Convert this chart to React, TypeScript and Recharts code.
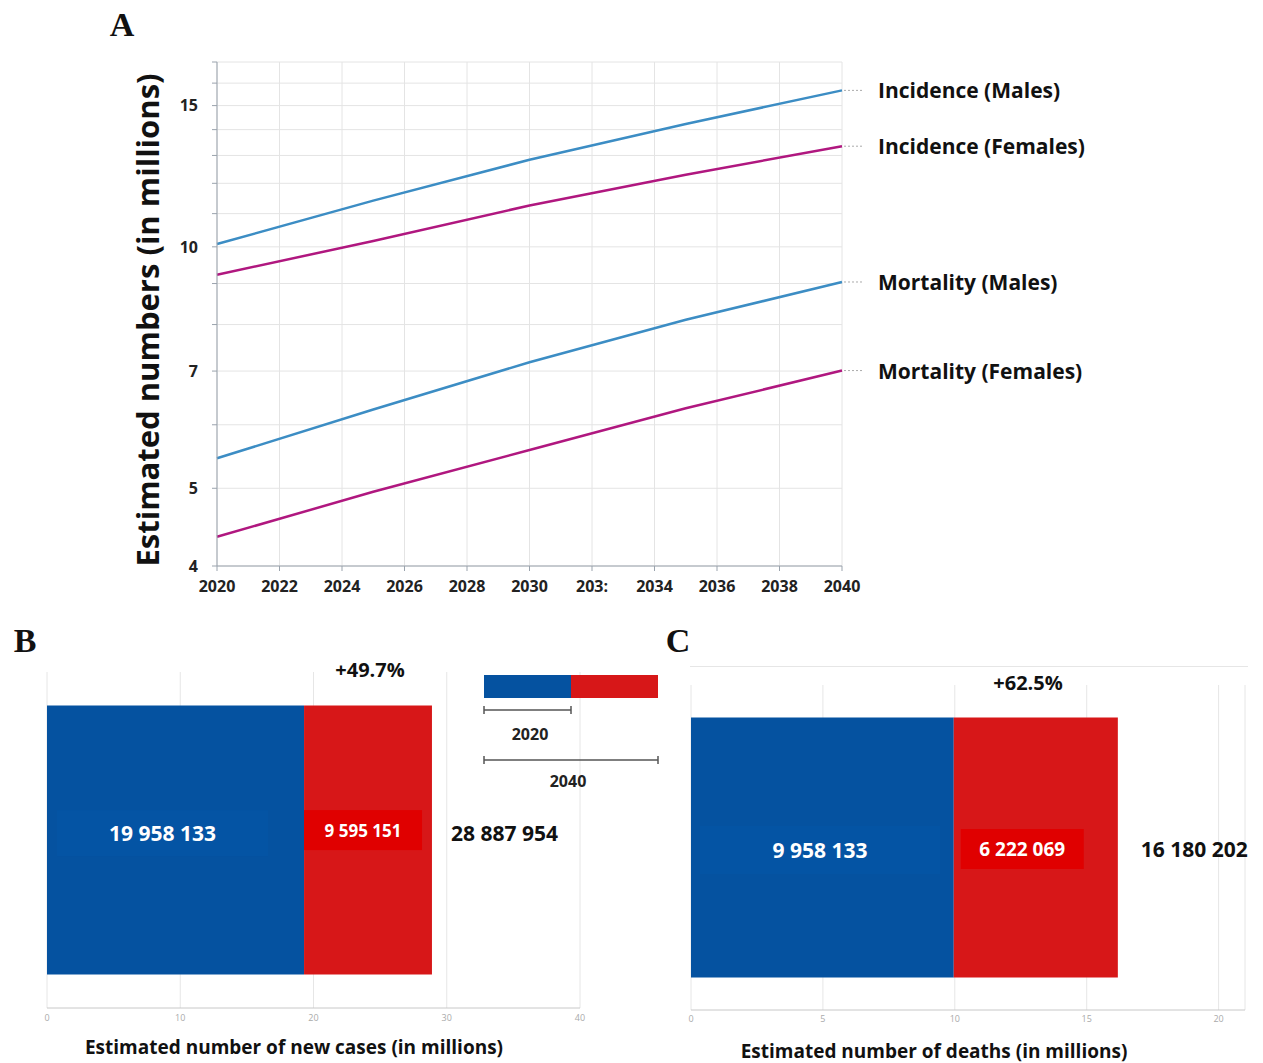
import React from 'react';
import {
  LineChart, Line, BarChart, Bar, XAxis, YAxis, CartesianGrid, LabelList,
} from 'recharts';

// panel A: projections (millions)
const years = [2020, 2025, 2030, 2035, 2040];
const incidenceMales = [10.08, 11.42, 12.84, 14.23, 15.67];
const incidenceFemales = [9.23, 10.17, 11.26, 12.3, 13.35];
const mortalityMales = [5.45, 6.27, 7.18, 8.11, 9.04];
const mortalityFemales = [4.35, 4.95, 5.58, 6.29, 7.01];
const seriesNames = ['Incidence (Males)', 'Incidence (Females)', 'Mortality (Males)', 'Mortality (Females)'];

const xTicks = [2020, 2022, 2024, 2026, 2028, 2030, 2032, 2034, 2036, 2038, 2040];
const xTickLabels = ['2020', '2022', '2024', '2026', '2028', '2030', '203:', '2034', '2036', '2038', '2040'];
const yTicks = [4, 5, 6, 7, 8, 9, 10, 11, 12, 13, 14, 15, 16, 17];
const yLabeled = [4, 5, 7, 10, 15];

// panel B: new cases
const casesCategory = ['New cases'];
const cases2020 = [19.29];
const casesGrowth = [9.6];
const casesLabels = ['19 958 133', '9 595 151', '28 887 954'];
const casesPct = '+49.7%';
const casesTicks = [0, 10, 20, 30, 40];

// panel C: deaths
const deathsCategory = ['Deaths'];
const deaths2020 = [9.96];
const deathsGrowth = [6.22];
const deathsLabels = ['9 958 133', '6 222 069', '16 180 202'];
const deathsPct = '+62.5%';
const deathsTicks = [0, 5, 10, 15, 20];

const BLUE_LINE = '#3c8dc4';
const MAGENTA = '#b0177f';
const BAR_BLUE = '#0552a0';
const BAR_RED = '#d71718';
const FONT = '"Open Sans", Lato, sans-serif';

const lineData = years.map((y, i) => ({
  year: y,
  im: incidenceMales[i],
  if: incidenceFemales[i],
  mm: mortalityMales[i],
  mf: mortalityFemales[i],
}));

const casesData = casesCategory.map((c, i) => ({
  name: c, base: cases2020[i], growth: casesGrowth[i],
  baseLabel: casesLabels[0], growthLabel: casesLabels[1], totalLabel: casesLabels[2],
}));
const deathsData = deathsCategory.map((c, i) => ({
  name: c, base: deaths2020[i], growth: deathsGrowth[i],
  baseLabel: deathsLabels[0], growthLabel: deathsLabels[1], totalLabel: deathsLabels[2],
}));

const endLabel = (name: string) => (props: any) => {
  const { x, y, index } = props;
  if (index !== years.length - 1) return null;
  return (
    <g>
      <line x1={x + 2} x2={x + 20} y1={y} y2={y} stroke="#aaa" strokeDasharray="2 2" />
      <text x={x + 36} y={y} dominantBaseline="central" fontFamily={FONT} fontWeight={700} fontSize={21} fill="#111">
        {name}
      </text>
    </g>
  );
};

const boxLabel = (o: { left: number; w: number; h: number; dy: number; fill: string; size: number }) => (props: any) => {
  const { x, y, height, value } = props;
  const cy = y + height / 2 + o.dy;
  return (
    <g>
      <rect x={x + o.left} y={cy - o.h / 2} width={o.w} height={o.h} fill={o.fill} />
      <text x={x + o.left + o.w / 2} y={cy} textAnchor="middle" dominantBaseline="central"
        fontFamily={FONT} fontWeight={700} fontSize={o.size} fill="#fff">{value}</text>
    </g>
  );
};

const totalLabel = (gap: number, dy: number) => (props: any) => {
  const { x, y, width, height, value } = props;
  return (
    <text x={x + width + gap} y={y + height / 2 + dy} dominantBaseline="central"
      fontFamily={FONT} fontWeight={700} fontSize={21} fill="#111">{value}</text>
  );
};

const Txt = ({ x, y, size, children, serif, bg }: any) => (
  <div style={{
    position: 'absolute', left: x, top: y, transform: 'translate(-50%, -50%)', whiteSpace: 'nowrap',
    lineHeight: 1, fontSize: size, fontWeight: 700, color: '#111',
    fontFamily: serif ? '"Liberation Serif", serif' : FONT,
    background: bg, padding: bg ? '0 4px' : 0,
  }}>{children}</div>
);

export default function App() {
  return (
    <div style={{ position: 'absolute', left: 0, top: 0, width: 1263, height: 1063, background: '#fff', overflow: 'hidden' }}>
      <Txt x={122} y={25} size={34} serif>A</Txt>
      <Txt x={25} y={641} size={34} serif>B</Txt>
      <Txt x={678} y={641} size={34} serif>C</Txt>

      <div style={{ position: 'absolute', left: 0, top: 0 }}>
        <LineChart width={1263} height={620} data={lineData} margin={{ top: 62, right: 421, bottom: 24, left: 157 }}>
          <CartesianGrid stroke="#e4e4e4" />
          <XAxis dataKey="year" type="number" domain={[2020, 2040]} ticks={xTicks} height={30}
            tickFormatter={(v: number) => xTickLabels[xTicks.indexOf(v)]}
            stroke="#9aa3ad" tickSize={5} tickMargin={10}
            tick={{ fontFamily: FONT, fontWeight: 700, fontSize: 16, fill: '#222' }} />
          <YAxis scale="log" domain={[4, 17]} ticks={yTicks} allowDataOverflow width={60}
            tickFormatter={(v: number) => (yLabeled.includes(v) ? String(v) : '')}
            stroke="#9aa3ad" tickSize={5} tickMargin={14}
            tick={{ fontFamily: FONT, fontWeight: 700, fontSize: 16, fill: '#222' }}
            label={{
              content: (p: any) => {
                const vb = p.viewBox;
                const cx = vb.x - 10;
                const cy = vb.y + vb.height / 2 + 6;
                return (
                  <text x={cx} y={cy} transform={`rotate(-90 ${cx} ${cy})`} textAnchor="middle" dominantBaseline="central"
                    fontFamily={FONT} fontWeight={700} fontSize={31} fill="#111">
                    Estimated numbers (in millions)
                  </text>
                );
              },
            }} />
          <Line dataKey="im" stroke={BLUE_LINE} strokeWidth={2.5} dot={false} isAnimationActive={false}>
            <LabelList content={endLabel(seriesNames[0])} />
          </Line>
          <Line dataKey="if" stroke={MAGENTA} strokeWidth={2.5} dot={false} isAnimationActive={false}>
            <LabelList content={endLabel(seriesNames[1])} />
          </Line>
          <Line dataKey="mm" stroke={BLUE_LINE} strokeWidth={2.5} dot={false} isAnimationActive={false}>
            <LabelList content={endLabel(seriesNames[2])} />
          </Line>
          <Line dataKey="mf" stroke={MAGENTA} strokeWidth={2.5} dot={false} isAnimationActive={false}>
            <LabelList content={endLabel(seriesNames[3])} />
          </Line>
        </LineChart>
      </div>

      {/* B */}
      <div style={{ position: 'absolute', left: 0, top: 640 }}>
        <BarChart width={620} height={400} data={casesData} layout="vertical" barCategoryGap="10%"
          margin={{ top: 32, right: 40, bottom: 2, left: 47 }}>
          <CartesianGrid horizontal={false} stroke="#e6e6e6" />
          <XAxis type="number" domain={[0, 40]} ticks={casesTicks} height={30} stroke="#c8c8c8"
            tickLine={false} tickSize={0} tickMargin={7} tick={{ fontSize: 9, fill: '#aaa', fontFamily: FONT }} />
          <YAxis type="category" dataKey="name" width={0} tick={false} tickLine={false} stroke="#999" />
          <Bar dataKey="base" stackId="a" fill={BAR_BLUE} isAnimationActive={false}>
            <LabelList dataKey="baseLabel" content={boxLabel({ left: 10, w: 211, h: 46, dy: -7, fill: '#0454a4', size: 21 })} />
          </Bar>
          <Bar dataKey="growth" stackId="a" fill={BAR_RED} isAnimationActive={false}>
            <LabelList dataKey="growthLabel" content={boxLabel({ left: 0, w: 118, h: 40, dy: -10, fill: '#e00000', size: 17 })} />
            <LabelList dataKey="totalLabel" content={totalLabel(19, -7)} />
          </Bar>
        </BarChart>
      </div>
      <Txt x={370} y={670} size={20}>{casesPct}</Txt>
      <Txt x={294} y={1047} size={19}>Estimated number of new cases (in millions)</Txt>
      <svg style={{ position: 'absolute', left: 470, top: 660 }} width={200} height={140}>
        <rect x={14} y={15} width={87} height={23} fill={BAR_BLUE} />
        <rect x={101} y={15} width={87} height={23} fill={BAR_RED} />
        <g stroke="#555" strokeWidth={1.5}>
          <line x1={14} x2={101} y1={50} y2={50} />
          <line x1={14} x2={14} y1={46} y2={54} />
          <line x1={101} x2={101} y1={46} y2={54} />
          <line x1={14} x2={188} y1={100} y2={100} />
          <line x1={14} x2={14} y1={96} y2={104} />
          <line x1={188} x2={188} y1={96} y2={104} />
        </g>
        <text x={60} y={74} textAnchor="middle" dominantBaseline="central" fontFamily={FONT} fontWeight={700} fontSize={16} fill="#222">2020</text>
        <text x={98} y={121} textAnchor="middle" dominantBaseline="central" fontFamily={FONT} fontWeight={700} fontSize={16} fill="#222">2040</text>
      </svg>

      {/* C */}
      <div style={{ position: 'absolute', left: 690, top: 666, width: 558, height: 1, background: '#e6e6e6' }} />
      <div style={{ position: 'absolute', left: 640, top: 640 }}>
        <BarChart width={623} height={400} data={deathsData} layout="vertical" barCategoryGap="10%"
          margin={{ top: 45, right: 18, bottom: 0, left: 51 }}>
          <CartesianGrid horizontal={false} stroke="#e6e6e6" />
          <XAxis type="number" domain={[0, 21]} ticks={deathsTicks} height={30} stroke="#c8c8c8"
            tickLine={false} tickSize={0} tickMargin={6} tick={{ fontSize: 9, fill: '#aaa', fontFamily: FONT }} />
          <YAxis type="category" dataKey="name" width={0} tick={false} tickLine={false} stroke="#999" />
          <Bar dataKey="base" stackId="a" fill={BAR_BLUE} isAnimationActive={false}>
            <LabelList dataKey="baseLabel" content={boxLabel({ left: 9, w: 240, h: 48, dy: 2.5, fill: '#0454a4', size: 21 })} />
          </Bar>
          <Bar dataKey="growth" stackId="a" fill={BAR_RED} isAnimationActive={false}>
            <LabelList dataKey="growthLabel" content={boxLabel({ left: 7, w: 123, h: 40, dy: 1.5, fill: '#e00000', size: 19 })} />
            <LabelList dataKey="totalLabel" content={totalLabel(23, 1.5)} />
          </Bar>
        </BarChart>
      </div>
      <Txt x={1028} y={683} size={20} bg="#fff">{deathsPct}</Txt>
      <Txt x={934} y={1051} size={19}>Estimated number of deaths (in millions)</Txt>
    </div>
  );
}
